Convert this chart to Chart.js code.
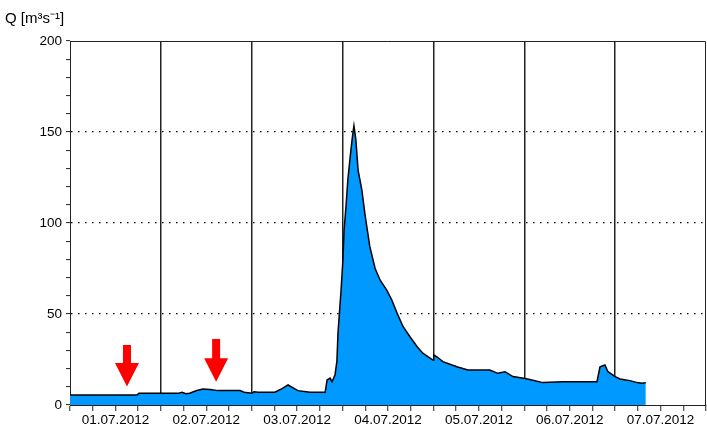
<!DOCTYPE html>
<html>
<head>
<meta charset="utf-8">
<script src="https://cdn.jsdelivr.net/npm/chart.js@4/dist/chart.umd.min.js"></script>
<style>
html,body{margin:0;padding:0;background:#fff;}
#wrap{width:707px;height:429px;}
</style>
</head>
<body>
<div id="wrap"><canvas id="c" width="707" height="429"></canvas></div>
<script>
// hours since 01.07.2012 00:00
const hours = [0,17.7,18.2,28.5,29.6,30.6,31.6,33.5,35.1,37,39.1,44.9,46,48.1,48.6,49.7,54.1,56,57.6,60.2,63.4,67.4,67.9,68.7,69.2,70,70.5,70.8,71.6,72.1,72.4,72.9,73.4,74.2,74.7,75.0,75.5,76.1,77.1,77.9,78.4,79.2,80.6,81.9,83.7,85,86.4,88,89.8,91.7,93.2,95.1,95.9,96.1,96.9,98.5,102.2,105.1,110.9,113,114.9,117,120.2,122,124.9,130.2,139.2,140,141.3,142.1,144,145.3,147.9,149.8,151.1,152.1];
// discharge Q [m3/s]
const flow = [5.5,5.5,6.4,6.4,7.0,6.2,6.5,8.0,8.8,8.5,7.9,7.9,7.0,6.5,7.3,7.0,7.0,9.0,11,7.9,7.0,7.0,13.7,14.8,12.8,16.5,24,40,63,80,96,109,124,140,149,153.5,146,129,118,105,98,87,75,68.7,63,57.7,50.5,43,37.5,32,28.5,25.8,24.7,27.5,26.5,23.8,21,19.2,19.2,17.4,18.3,15.6,14.6,13.7,12.3,12.8,12.8,21,22,18.3,15.6,14.3,13.4,12.3,11.9,12.3];
const dayLabels = ['01.07.2012','02.07.2012','03.07.2012','04.07.2012','05.07.2012','06.07.2012','07.07.2012'];
const yLabelValues = [0,50,100,150,200];
const yGridValues = [50,100,150];
// arrow annotations: hour, top value, tip value
const arrowHours = [15.05, 38.6];
const arrowTops = [33, 36.3];
const arrowTips = [10.2, 12.8];

const FONT = {family:'"Liberation Sans", Arial, sans-serif', size:13.5};

const points = hours.map((h,i)=>({x:h, y:flow[i]}));

const decor = {
  id:'decor',
  afterDraw(chart){
    const ctx = chart.ctx, a = chart.chartArea;
    const xs = chart.scales.x, ys = chart.scales.y;
    ctx.save();
    // frame top/right
    ctx.strokeStyle = '#222';
    ctx.lineWidth = 1;
    ctx.beginPath();
    ctx.moveTo(Math.round(a.left), Math.round(a.top)+0.5);
    ctx.lineTo(Math.round(a.right)-0.5, Math.round(a.top)+0.5);
    ctx.lineTo(Math.round(a.right)-0.5, Math.round(a.bottom));
    ctx.stroke();
    // arrows
    ctx.fillStyle = '#ff0000';
    for (let i=0;i<arrowHours.length;i++){
      const cx = xs.getPixelForValue(arrowHours[i]);
      const ty = ys.getPixelForValue(arrowTops[i]);
      const py = ys.getPixelForValue(arrowTips[i]);
      const headLen = 23.5, sw = 4, hw = 12;
      ctx.beginPath();
      ctx.moveTo(cx-sw, ty);
      ctx.lineTo(cx+sw, ty);
      ctx.lineTo(cx+sw, py-headLen);
      ctx.lineTo(cx+hw, py-headLen);
      ctx.lineTo(cx, py);
      ctx.lineTo(cx-hw, py-headLen);
      ctx.lineTo(cx-sw, py-headLen);
      ctx.closePath();
      ctx.fill();
    }
    // title
    ctx.fillStyle = '#000';
    ctx.font = '15px "Liberation Sans", Arial, sans-serif';
    ctx.textBaseline = 'alphabetic';
    ctx.textAlign = 'left';
    ctx.fillText('Q [m³s⁻¹]', 5, 23);
    ctx.restore();
  }
};

new Chart(document.getElementById('c'), {
  type:'line',
  data:{
    datasets:[{
      data: points,
      fill:'origin',
      backgroundColor:'#0099ff',
      borderColor:'#000',
      borderWidth:1.5,
      pointRadius:0,
      tension:0
    }]
  },
  options:{
    responsive:false,
    animation:false,
    events:[],
    layout:{padding:{top:41,right:1,left:0,bottom:0}},
    plugins:{legend:{display:false},tooltip:{enabled:false},title:{display:false}},
    scales:{
      x:{
        type:'linear', min:0, max:168, z:1,
        afterBuildTicks(s){ const t=[]; for(let h=0;h<=168;h+=6) t.push({value:h}); s.ticks=t; },
        afterFit(s){ s.height = 24; },
        ticks:{
          autoSkip:false, maxRotation:0, minRotation:0, padding:1, color:'#000', font:FONT,
          callback(v){ return (v%24===12) ? dayLabels[(v-12)/24] : ''; }
        },
        grid:{
          drawOnChartArea:true,
          color(ctx){ const v = ctx.tick && ctx.tick.value; return (v>0 && v<168 && v%24===0) ? '#222' : 'rgba(0,0,0,0)'; },
          lineWidth:1.5,
          tickColor:'#222', tickLength:6, tickWidth:1
        },
        border:{display:true,color:'#222',width:1}
      },
      y:{
        type:'linear', min:0, max:200,
        afterBuildTicks(s){ const t=[]; for(let v=0;v<=200;v+=10) t.push({value:v}); s.ticks=t; },
        afterFit(s){ s.width = 70; },
        ticks:{
          autoSkip:false, padding:4, color:'#000', font:FONT,
          callback(v){ return yLabelValues.includes(v) ? String(v) : ''; }
        },
        grid:{
          color(ctx){ const v = ctx.tick && ctx.tick.value; return yGridValues.includes(v) ? '#000' : 'rgba(0,0,0,0)'; },
          lineWidth:1.2,
          tickColor:'#222', tickLength:4, tickWidth:1
        },
        border:{display:true,color:'#222',width:1,dash:[1.5,5.5]}
      }
    }
  },
  plugins:[decor]
});
</script>
</body>
</html>
